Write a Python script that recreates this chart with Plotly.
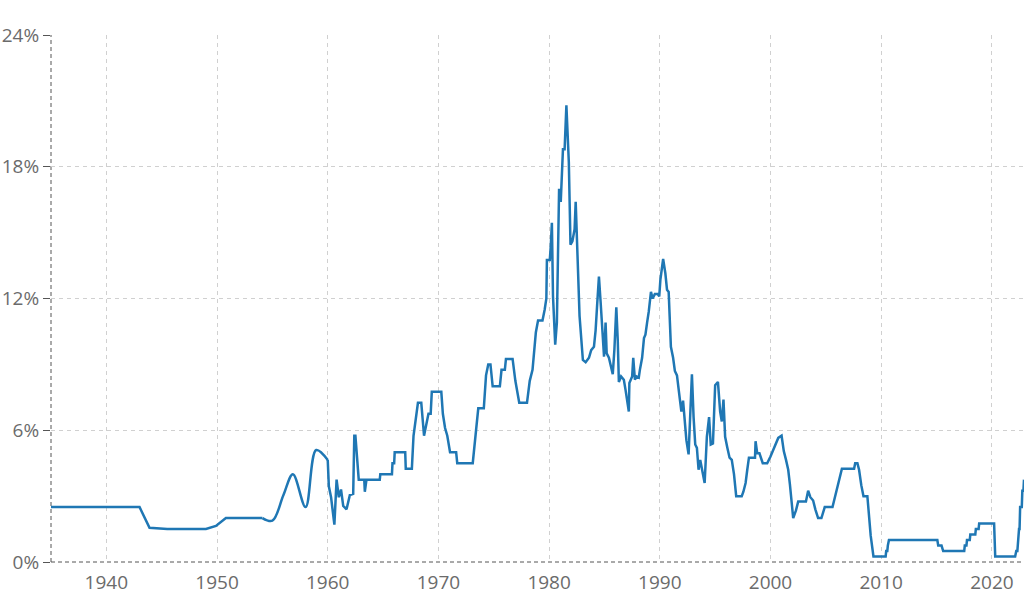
"""
Policy interest rate history, 1935-2022, drawn as a single line chart.
"""

import plotly.graph_objects as go

# 1935-1954: long flat stretches (decimal year, rate in %)
early_years = [1935.0, 1943.0, 1943.9, 1945.5, 1949.0, 1949.9, 1950.8, 1954.1]
early_rates = [2.5, 2.5, 1.56, 1.5, 1.5, 1.64, 2.0, 2.0]

# 1954-1960: sparse readings, drawn as a smooth curve
fifties_years = [1954.1, 1955.0, 1956.0, 1956.85, 1958.0, 1958.96, 1960.0]
fifties_rates = [2.0, 1.88, 3.05, 4.0, 2.5, 5.1, 4.65]

# From 1960 on: rate changes (decimal year, rate in %)
late_years = [
    1960.0, 1960.1, 1960.3, 1960.6, 1960.8, 1961.0, 1961.2, 1961.4, 1961.7, 1962.0,
    1962.3, 1962.4, 1962.5, 1962.8, 1963.3, 1963.35, 1963.5, 1964.7, 1964.75, 1965.8,
    1965.85, 1966.0, 1966.05, 1967.0, 1967.05, 1967.6, 1967.75, 1968.0, 1968.15, 1968.45,
    1968.6, 1968.7, 1968.9, 1969.1, 1969.3, 1969.4, 1970.26, 1970.4, 1970.6, 1970.8,
    1971.05, 1971.6, 1971.7, 1973.1, 1973.4, 1973.6, 1974.1, 1974.3, 1974.5, 1974.7,
    1974.9, 1975.55, 1975.7, 1976.0, 1976.1, 1976.7, 1976.95, 1977.1, 1977.3, 1978.0,
    1978.25, 1978.5, 1978.7, 1978.8, 1979.0, 1979.4, 1979.6, 1979.75, 1979.8, 1980.06,
    1980.15, 1980.25, 1980.35, 1980.55, 1980.7, 1980.9, 1981.05, 1981.25, 1981.4, 1981.56,
    1981.78, 1981.93, 1982.1, 1982.3, 1982.4, 1982.5, 1982.75, 1983.05, 1983.3, 1983.6,
    1983.8, 1984.05, 1984.2, 1984.35, 1984.5, 1984.65, 1984.85, 1984.96, 1985.1, 1985.2,
    1985.4, 1985.6, 1985.75, 1985.9, 1986.07, 1986.2, 1986.3, 1986.5, 1986.75, 1986.9,
    1987.05, 1987.2, 1987.25, 1987.5, 1987.6, 1987.75, 1987.9, 1988.1, 1988.2, 1988.4,
    1988.57, 1988.7, 1988.85, 1989.0, 1989.2, 1989.35, 1989.55, 1989.8, 1989.95, 1990.05,
    1990.3, 1990.5, 1990.65, 1990.8, 1991.0, 1991.2, 1991.36, 1991.55, 1991.8, 1991.95,
    1992.1, 1992.25, 1992.4, 1992.6, 1992.75, 1992.9, 1993.05, 1993.2, 1993.35, 1993.5,
    1993.65, 1993.8, 1994.05, 1994.25, 1994.45, 1994.6, 1994.8, 1995.0, 1995.25, 1995.45,
    1995.6, 1995.75, 1995.9, 1996.1, 1996.3, 1996.5, 1996.7, 1996.9, 1997.4, 1997.55,
    1997.75, 1997.9, 1998.05, 1998.6, 1998.65, 1998.8, 1999.0, 1999.3, 1999.7, 2000.0,
    2000.3, 2000.7, 2001.0, 2001.2, 2001.4, 2001.6, 2001.75, 2001.9, 2002.05, 2002.3,
    2002.5, 2003.2, 2003.4, 2003.6, 2003.85, 2004.05, 2004.3, 2004.6, 2004.9, 2005.6,
    2005.85, 2006.05, 2006.3, 2006.45, 2007.55, 2007.65, 2007.85, 2008.0, 2008.2, 2008.4,
    2008.75, 2008.9, 2009.05, 2009.3, 2010.4, 2010.45, 2010.55, 2010.6, 2010.7, 2015.07,
    2015.15, 2015.45, 2015.6, 2017.5, 2017.55, 2017.7, 2017.75, 2018.0, 2018.05, 2018.5,
    2018.55, 2018.8, 2018.85, 2020.2, 2020.3, 2022.1, 2022.2, 2022.3, 2022.35, 2022.4,
    2022.45, 2022.5, 2022.55, 2022.7, 2022.75, 2022.85, 2022.9,
]
late_rates = [
    4.65, 3.45, 2.95, 1.7, 3.75, 2.95, 3.3, 2.55, 2.4, 3.05,
    3.1, 5.75, 5.75, 3.75, 3.75, 3.2, 3.75, 3.75, 4.0, 4.0,
    4.5, 4.5, 5.0, 5.0, 4.25, 4.25, 5.75, 6.75, 7.25, 7.25,
    6.25, 5.75, 6.25, 6.75, 6.75, 7.75, 7.75, 6.75, 6.1, 5.75,
    5.0, 5.0, 4.5, 4.5, 6.0, 7.0, 7.0, 8.5, 9.0, 9.0,
    8.0, 8.0, 8.75, 8.75, 9.25, 9.25, 8.25, 7.75, 7.25, 7.25,
    8.25, 8.75, 9.7, 10.45, 11.0, 11.0, 11.5, 12.0, 13.75, 13.75,
    14.4, 15.45, 12.1, 9.9, 10.9, 17.0, 16.4, 18.8, 18.8, 20.8,
    18.2, 14.45, 14.6, 15.15, 16.4, 15.0, 11.2, 9.2, 9.1, 9.3,
    9.65, 9.8, 10.55, 11.8, 13.0, 11.85, 10.1, 9.35, 10.9, 9.5,
    9.3, 8.9, 8.55, 9.7, 11.6, 10.1, 8.2, 8.45, 8.3, 7.85,
    7.4, 6.85, 8.15, 8.45, 9.3, 8.3, 8.45, 8.4, 8.75, 9.3,
    10.2, 10.35, 10.9, 11.4, 12.3, 12.0, 12.2, 12.2, 12.1, 12.85,
    13.8, 13.15, 12.4, 12.3, 9.8, 9.3, 8.7, 8.5, 7.45, 6.85,
    7.35, 6.6, 5.55, 4.9, 6.9, 8.55, 6.6, 5.35, 5.2, 4.2,
    4.65, 4.2, 3.6, 5.7, 6.6, 5.35, 5.4, 8.05, 8.2, 6.85,
    6.4, 7.4, 5.7, 5.2, 4.75, 4.65, 4.0, 3.0, 3.0, 3.2,
    3.6, 4.2, 4.75, 4.75, 5.5, 4.95, 4.95, 4.5, 4.5, 4.8,
    5.2, 5.65, 5.75, 5.05, 4.65, 4.2, 3.55, 2.7, 2.0, 2.35,
    2.75, 2.75, 3.25, 2.95, 2.8, 2.4, 2.0, 2.0, 2.5, 2.5,
    3.0, 3.45, 3.9, 4.25, 4.25, 4.5, 4.5, 4.2, 3.5, 3.0,
    3.0, 2.1, 1.2, 0.25, 0.25, 0.5, 0.5, 0.75, 1.0, 1.0,
    0.75, 0.75, 0.5, 0.5, 0.75, 0.75, 1.0, 1.0, 1.25, 1.25,
    1.5, 1.5, 1.75, 1.75, 0.25, 0.25, 0.5, 0.5, 1.0, 1.0,
    1.5, 1.5, 2.5, 2.5, 3.25, 3.25, 3.75,
]

year_ticks = [1940, 1950, 1960, 1970, 1980, 1990, 2000, 2010, 2020]
rate_ticks = [0, 6, 12, 18, 24]

LINE_COLOR = '#1f77b4'
GRID = dict(gridcolor='#d0d0d0', gridwidth=1, griddash='4px,4px')


def create_rate_chart():
    fig = go.Figure()

    # same colour for all three pieces so they read as one line
    fig.add_trace(go.Scatter(
        x=early_years, y=early_rates, mode='lines',
        line=dict(color=LINE_COLOR, width=2.5), showlegend=False
    ))
    fig.add_trace(go.Scatter(
        x=fifties_years, y=fifties_rates, mode='lines',
        line=dict(color=LINE_COLOR, width=2.5, shape='spline', smoothing=1),
        showlegend=False
    ))
    fig.add_trace(go.Scatter(
        x=late_years, y=late_rates, mode='lines',
        line=dict(color=LINE_COLOR, width=2.5), showlegend=False
    ))

    fig.update_layout(
        width=1024, height=614,
        margin=dict(l=51, r=0, t=35, b=52),
        plot_bgcolor='white', paper_bgcolor='white',
        font=dict(family='Open Sans', size=19, color='#6b6b6b'),
        xaxis=dict(
            range=[1935, 2022.9], tickvals=year_ticks, automargin=False,
            ticks='outside', ticklen=3, tickcolor='rgba(0,0,0,0)',
            showline=False, zeroline=False, **GRID
        ),
        yaxis=dict(
            range=[0, 24], tickvals=rate_ticks, automargin=False,
            ticktext=[f'{v}%' for v in rate_ticks],
            ticks='outside', ticklen=7, tickcolor='#555555',
            showline=False, zeroline=False, **GRID
        ),
        shapes=[
            dict(type='line', xref='paper', yref='paper', x0=0, x1=0, y0=0, y1=1,
                 line=dict(color='#555555', width=1, dash='4px,3px'), layer='below'),
            dict(type='line', xref='paper', yref='paper', x0=0, x1=1, y0=0, y1=0,
                 line=dict(color='#555555', width=1, dash='4px,3px'), layer='below'),
        ]
    )
    return fig


fig = create_rate_chart()
# page has a default body margin; drop it so the chart sits at the window corner
fig.write_html("out.html", config={'displayModeBar': False},
               post_script="document.body.style.margin = '0';")
